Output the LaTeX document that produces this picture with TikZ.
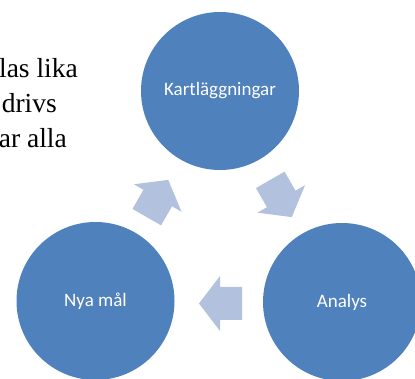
\documentclass[tikz,border=0pt]{standalone}
\usepackage{fontspec}
\setmainfont{Liberation Serif}
\newfontfamily\labelfont{Carlito}
\definecolor{circblue}{HTML}{4F81BD}
\definecolor{arrowblue}{HTML}{B2C1DD}
\begin{document}
\begin{tikzpicture}[x=1pt,y=-1pt,
  stage/.style={circle,fill=circblue,draw=none,minimum size=158pt,inner sep=0pt,
    text=white,font=\labelfont\fontsize{19}{22}\selectfont},
  bodytext/.style={anchor=base east,inner sep=0pt,font=\fontsize{27.5}{30}\selectfont},
  cyclearrow/.style={fill=arrowblue,draw=none}]
\useasboundingbox (0,0) rectangle (415,379);
\node[bodytext] (t1) at (78,78) {las lika};
\node[bodytext] (t2) at (57,113) {drivs};
\node[bodytext] (t3) at (67,148) {ar alla};
\node[stage] (kart) at (220,91) {Kartläggningar};
\node[stage] (analys) at (342,302) {Analys};
\node[stage] (nya) at (95.5,301) {Nya mål};
% arrows: local shape pointing in +x
\def\arrowshape{(21.5,0) -- (0.5,-27.5) -- (0.5,-16.5) -- (-21.5,-16.5) -- (-21.5,16.5) -- (0.5,16.5) -- (0.5,27.5) -- cycle}
\begin{scope}
\clip (0,0) rectangle (415,379);
\fill[cyclearrow,shift={(281,198.5)},rotate=-60] \arrowshape;
\fill[cyclearrow,shift={(220.5,303.5)},rotate=180] \arrowshape;
\fill[cyclearrow,shift={(157.5,198.5)},rotate=60] \arrowshape;
\end{scope}
\end{tikzpicture}
\end{document}
